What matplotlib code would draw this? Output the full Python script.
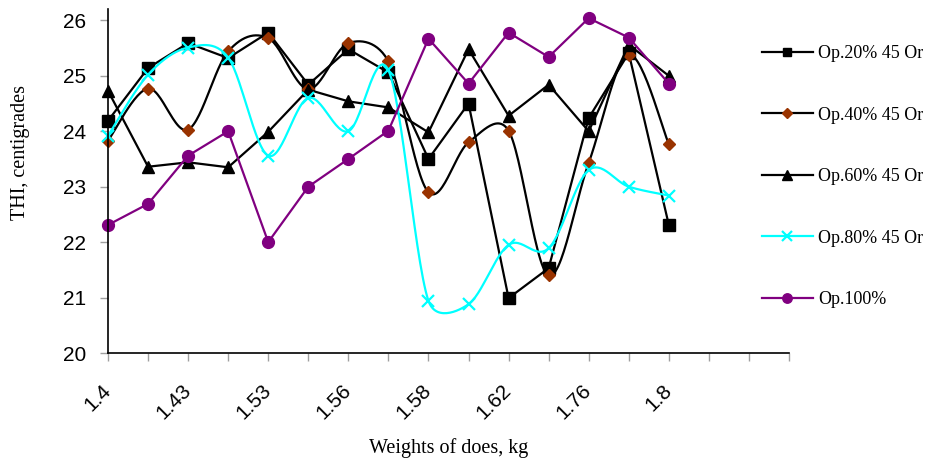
import numpy as np
import matplotlib
matplotlib.use('Agg')
import matplotlib.pyplot as plt
from matplotlib.lines import Line2D

# ---- data ----
tick_labels = ['1.4', '', '1.43', '', '1.53', '', '1.56', '', '1.58', '', '1.62', '',
               '1.76', '', '1.8', '', '', '']
op20 = [24.19, 25.14, 25.59, 25.32, 25.78, 24.84, 25.48, 25.06, 23.50, 24.50,
        20.99, 21.53, 24.24, 25.41, 22.31]
op40 = [23.83, 24.77, 24.03, 25.44, 25.68, 24.76, 25.59, 25.26, 22.90, 23.80,
        24.01, 21.40, 23.43, 25.38, 23.77]
op60 = [24.73, 23.36, 23.44, 23.35, 23.99, 24.75, 24.54, 24.43, 23.98, 25.48,
        24.28, 24.84, 24.00, 25.56, 25.00]
op80 = [23.92, 25.02, 25.51, 25.33, 23.56, 24.60, 24.00, 25.10, 20.94, 20.88,
        21.95, 21.89, 23.30, 23.00, 22.84]
op100 = [22.31, 22.69, 23.56, 24.00, 22.00, 23.00, 23.50, 24.01, 25.67, 24.86,
         25.78, 25.34, 26.04, 25.69, 24.86]
series_names = ['Op.20% 45 Or', 'Op.40% 45 Or', 'Op.60% 45 Or', 'Op.80% 45 Or', 'Op.100%']

XPIX = 40.0   # approx. display pixels per category
YPIX = 55.4   # approx. display pixels per y unit


def excel_smooth(x, y, n=30, k=1 / 6.0, cap=0.5):
    """Bezier smoothing similar to spreadsheet 'smoothed line' charts,
    computed in display-like units with arm lengths capped."""
    P = np.column_stack([np.asarray(x, float) * XPIX, np.asarray(y, float) * YPIX])
    m = len(P)
    Pe = np.vstack([P[0], P, P[-1]])
    tang = np.array([(Pe[i + 2] - Pe[i]) * k for i in range(m)])
    xs, ys = [], []
    t = np.linspace(0, 1, n)
    for i in range(m - 1):
        p0, p3 = P[i], P[i + 1]
        seg = np.linalg.norm(p3 - p0)
        a1 = tang[i].copy()
        a2 = tang[i + 1].copy()
        for a in (a1, a2):
            L = np.linalg.norm(a)
            if L > cap * seg and L > 0:
                a *= cap * seg / L
        c1 = p0 + a1
        c2 = p3 - a2
        b = ((1 - t) ** 3)[:, None] * p0 + (3 * (1 - t) ** 2 * t)[:, None] * c1 \
            + (3 * (1 - t) * t ** 2)[:, None] * c2 + (t ** 3)[:, None] * p3
        xs.append(b[:, 0] / XPIX)
        ys.append(b[:, 1] / YPIX)
    return np.concatenate(xs), np.concatenate(ys)


fig = plt.figure(figsize=(9.30, 4.61), dpi=100)
ax = fig.add_axes([108 / 930, 1 - 353 / 461, (789 - 108) / 930, (353 - 9.3) / 461])

styles = [
    dict(data=op20, lc='black', mk='s', mfc='black', ms=8, smooth=False),
    dict(data=op40, lc='black', mk='D', mfc='#993300', ms=6.5, smooth=True),
    dict(data=op60, lc='black', mk='^', mfc='black', ms=8.5, smooth=False),
    dict(data=op80, lc='#00FFFF', mk='x', mfc='#00FFFF', ms=8.5, smooth=True),
    dict(data=op100, lc='#800080', mk='o', mfc='#800080', ms=8.5, smooth=False),
]

handles = []
for st, name in zip(styles, series_names):
    y = np.array(st['data'])
    x = np.arange(len(y))
    if st['smooth']:
        sx, sy = excel_smooth(x, y)
    else:
        sx, sy = x, y
    ax.plot(sx, sy, color=st['lc'], lw=1.6, solid_capstyle='round', clip_on=False)
    mew = 1.6 if st['mk'] == 'x' else 1.0
    ax.plot(x, y, linestyle='none', marker=st['mk'], markersize=st['ms'],
            markerfacecolor=st['mfc'], markeredgecolor=st['mfc'], markeredgewidth=mew,
            clip_on=False)
    handles.append(Line2D([], [], color=st['lc'], lw=1.6, marker=st['mk'],
                          markersize=st['ms'] * 0.8, markerfacecolor=st['mfc'],
                          markeredgecolor=st['mfc'], markeredgewidth=mew))

ax.set_xlim(0, len(tick_labels) - 1)
ax.set_ylim(20, 26.2)
ax.set_yticks(np.arange(20, 27, 1))
ax.set_yticklabels([str(v) for v in range(20, 27)], fontfamily='Liberation Sans', fontsize=15)
ax.set_xticks(np.arange(len(tick_labels)))
ax.set_xticklabels(tick_labels, fontfamily='Liberation Sans', fontsize=15,
                   rotation=45, ha='right', va='center', rotation_mode='anchor')

for s in ['top', 'right']:
    ax.spines[s].set_visible(False)
for s in ['left', 'bottom']:
    ax.spines[s].set_color('black')
    ax.spines[s].set_linewidth(1.2)

ax.tick_params(axis='y', direction='out', length=6, width=1, color='#A0A0A0', pad=10)
ax.tick_params(axis='x', direction='out', length=6, width=1, color='#A0A0A0', pad=19)

fig.text(21 / 930, 1 - 152 / 461, 'THI, centigrades', rotation=90, ha='center', va='center',
         fontfamily='Liberation Serif', fontsize=14.5)
fig.text(449 / 930, 1 - 448 / 461, 'Weights of does, kg', ha='center', va='center',
         fontfamily='Liberation Serif', fontsize=14.5)

leg = ax.legend(handles, series_names, loc='upper left',
                bbox_to_anchor=(762 / 930, 1 - 45 / 461), bbox_transform=fig.transFigure,
                frameon=False, borderpad=0, borderaxespad=0, handlelength=2.8,
                handletextpad=0.3, labelspacing=2.47,
                prop={'family': 'Liberation Serif', 'size': 13})

fig.savefig('out.png', dpi=100)
